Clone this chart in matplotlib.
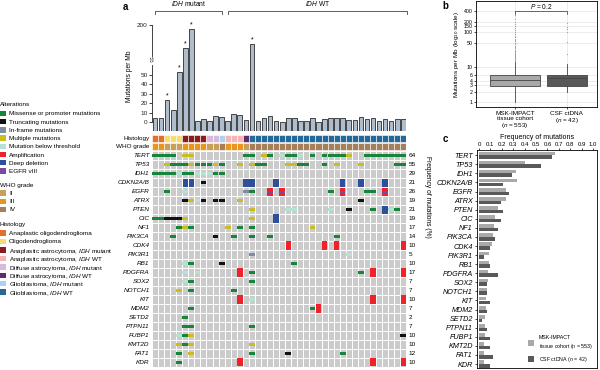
import numpy as np
import matplotlib.pyplot as plt

plt.rcParams['font.family'] = ['Liberation Sans', 'DejaVu Sans']
plt.rcParams['mathtext.fontset'] = 'custom'
plt.rcParams['mathtext.rm'] = 'Liberation Sans'
plt.rcParams['mathtext.it'] = 'Liberation Sans:italic'
plt.rcParams['axes.linewidth'] = 0.6

# ---- data -------------------------------------------------------------
genes = ['TERT', 'TP53', 'IDH1', 'CDKN2A/B', 'EGFR', 'ATRX', 'PTEN', 'CIC', 'NF1',
         'PIK3CA', 'CDK4', 'PIK3R1', 'RB1', 'PDGFRA', 'SOX2', 'NOTCH1', 'KIT', 'MDM2',
         'SETD2', 'PTPN11', 'FUBP1', 'KMT2D', 'FAT1', 'KDR']
freq_pct = [64, 55, 29, 21, 26, 19, 21, 19, 17, 14, 10, 5, 10, 17, 7, 7, 10, 7, 2, 7,
            10, 10, 12, 10]

# mutations per Mb for the 42 CSF samples
tmb = [5, 5, 24, 13, 53, 127, 188, 1, 4, 1, 7, 6, 1, 9, 8, 3, 139, 1, 5, 7, 1, 0,
       5, 5, 1, 1, 5, 0, 4, 5, 5, 5, 3, 3, 6, 4, 5, 1, 4, 2, 4, 4]
star_cols = [2, 4, 5, 6, 16]

hist_names = ['Anaplastic oligodendroglioma', 'Oligodendroglioma',
              'Anaplastic astrocytoma, $\\it{IDH}$ mutant', 'Anaplastic astrocytoma, $\\it{IDH}$ WT',
              'Diffuse astrocytoma, $\\it{IDH}$ mutant', 'Diffuse astrocytoma, $\\it{IDH}$ WT',
              'Glioblastoma, $\\it{IDH}$ mutant', 'Glioblastoma, $\\it{IDH}$ WT']
hist_colors = ['#e2712b', '#f7dc6f', '#8b1c1c', '#f5b5b5', '#d9b8dc', '#5e2b6e',
               '#a9d3ef', '#25689a']
histology = [0, 0, 1, 1, 1, 2, 2, 2, 2, 4, 4, 6, 3, 3, 3, 5] + [7] * 26
who_names = ['II', 'III', 'IV']
who_colors = ['#c9a05b', '#e8961f', '#a57e5a']
who_grade = [1, 1, 0, 0, 0, 1, 1, 1, 1, 0, 0, 2, 1, 1, 1, 0] + [2] * 26

missense = {'TERT': [0, 1, 2, 3, 15, 16, 19, 22, 23, 26, 28, 29, 30, 31, 35, 36, 37, 38, 39, 40, 41],
            'TP53': [3, 4, 5, 7, 8, 9, 11, 17, 18, 24, 25, 28, 40, 41],
            'IDH1': [0, 1, 2, 3, 5, 6, 10, 11], 'EGFR': [2, 16, 29, 35, 36],
            'PTEN': [36, 40], 'CIC': [0, 1], 'NF1': [4, 6, 14, 16],
            'PIK3CA': [3, 13, 16, 19, 30], 'RB1': [6, 23], 'PDGFRA': [16, 34],
            'SOX2': [6, 16], 'NOTCH1': [6, 13], 'MDM2': [6, 26], 'SETD2': [5],
            'PTPN11': [5, 6, 16], 'FUBP1': [5], 'KMT2D': [5], 'FAT1': [4, 16, 31],
            'KDR': [4]}
truncating = {'CDKN2A/B': [8], 'ATRX': [5, 8, 10, 11, 34], 'PTEN': [32], 'CIC': [2, 3, 4],
              'PIK3CA': [10], 'RB1': [11], 'FUBP1': [41], 'FAT1': [22]}
inframe = {'EGFR': [15], 'PIK3R1': [16]}
multiple = {'TERT': [5, 6, 18, 32], 'TP53': [2, 6, 10, 14, 16, 22, 23, 30, 34],
            'ATRX': [6, 14], 'PTEN': [16], 'CIC': [5, 16], 'NF1': [5, 12, 26],
            'NOTCH1': [4], 'FUBP1': [6], 'KMT2D': [4, 6, 16], 'FAT1': [6]}
below_threshold = {'TERT': [21, 24], 'IDH1': [4, 7, 8, 9], 'EGFR': [5], 'ATRX': [7],
                   'PTEN': [22, 23, 29, 39], 'PIK3R1': [32], 'RB1': [5], 'PDGFRA': [5, 7],
                   'SOX2': [5], 'KIT': [16], 'FUBP1': [4]}
amplification = {'EGFR': [19, 21, 31, 38], 'CDK4': [22, 28, 30, 41], 'PDGFRA': [14, 36, 41],
                 'KIT': [14, 36, 41], 'MDM2': [27], 'KDR': [14, 36, 41]}
deep_deletion = {'CDKN2A/B': [5, 6, 15, 16, 20, 31, 34, 38], 'PTEN': [38], 'CIC': [20]}
egfr_viii = {'EGFR': [19, 21, 31, 38]}

# panel b summaries (mutations per Mb)
cohorts = ['MSK-IMPACT\ntissue cohort\n($\\it{n}$ = 553)', 'CSF ctDNA\n($\\it{n}$ = 42)']
box_q1 = [2.9, 2.9]
box_med = [4.3, 4.8]
box_q3 = [5.8, 5.8]
box_lo = [1.0, 2.0]
box_hi = [14, 12.6]
msk_outliers = [15, 16, 17, 18, 19, 20, 21, 22, 24, 26, 28, 30, 32, 35, 38, 41, 45, 50,
                55, 60, 66, 72, 80, 90, 100, 115, 130, 150, 175, 200, 250, 320, 420]
csf_outliers = [24, 53, 100, 127, 139, 188]

# panel c frequencies
msk_freq = [0.667, 0.404, 0.325, 0.33, 0.237, 0.237, 0.164, 0.14, 0.135, 0.126, 0.111,
            0.09, 0.085, 0.076, 0.076, 0.073, 0.061, 0.061, 0.056, 0.053, 0.053, 0.047,
            0.044, 0.044]
csf_freq = [p / 100 for p in [64.3, 54.8, 28.6, 21.4, 26.2, 19.0, 21.4, 19.0, 16.7, 14.3,
                              9.5, 4.8, 9.5, 16.7, 7.1, 7.1, 9.5, 7.1, 2.4, 7.1, 9.5, 9.5,
                              11.9, 9.5]]

alt_names = ['Missense or promoter mutations', 'Truncating mutations', 'In-frame mutations',
             'Multiple mutations', 'Mutation below threshold', 'Amplification',
             'Deep deletion', 'EGFR vIII']
alt_colors = ['#17843c', '#111111', '#7d8ea3', '#c9bd22', '#b5e3d2', '#ee2229',
              '#2f4e9c', '#7b4a9a']

# ---- layout helpers ---------------------------------------------------
W, H = 600, 370
fig = plt.figure(figsize=(6, 3.7), dpi=100)


def axes_px(l, t, r, b):
    return fig.add_axes([l / W, 1 - b / H, (r - l) / W, (b - t) / H])


ov = axes_px(0, 0, W, H)
ov.set_xlim(0, W)
ov.set_ylim(H, 0)
ov.axis('off')

# ---- legend (left) ----------------------------------------------------
fs = 4.6
ov.text(0, 104, 'Alterations', fontsize=fs, va='center_baseline')
for i, (n, c) in enumerate(zip(alt_names, alt_colors)):
    y = 113.5 + 8.2 * i
    ov.bar(3.2, 5.4, bottom=y - 2.7, width=5.6, color=c)
    ov.text(9, y, n, fontsize=fs, va='center_baseline')
ov.text(0, 185, 'WHO grade', fontsize=fs, va='center_baseline')
for i, (n, c) in enumerate(zip(who_names, who_colors)):
    y = 193 + 8.2 * i
    ov.bar(3.2, 5.4, bottom=y - 2.7, width=5.6, color=c)
    ov.text(9, y, n, fontsize=fs, va='center_baseline')
ov.text(0, 224, 'Histology', fontsize=fs, va='center_baseline')
for i, (n, c) in enumerate(zip(hist_names, hist_colors)):
    y = 233 + 8.45 * i
    ov.bar(3.2, 5.4, bottom=y - 2.7, width=5.6, color=c)
    ov.text(9, y, n, fontsize=fs, va='center_baseline')

# ---- panel a: TMB bars ------------------------------------------------
ncol = len(tmb)


def fwd(v):
    v = np.asarray(v, float)
    return np.where(v <= 55, v, 55 + (v - 55) * 0.327)


def inv(d):
    d = np.asarray(d, float)
    return np.where(d <= 55, d, 55 + (d - 55) / 0.327)


axa = axes_px(152, 22, 406.3, 131)
axa.set_yscale('function', functions=(fwd, inv))
x = np.arange(ncol) + 0.5
axa.bar(x, np.array(tmb) + 9, bottom=-9, width=0.77, color='#aebccb',
        edgecolor='#2b2b2b', linewidth=0.6)
for k in star_cols:
    axa.annotate('*', (x[k], tmb[k]), xytext=(0, 0.5), textcoords='offset points',
                 ha='center', va='bottom', fontsize=5)
axa.set_xlim(0, ncol)
axa.set_ylim(-9, 210)
for s in ['top', 'right', 'bottom', 'left']:
    axa.spines[s].set_visible(False)
axa.set_xticks([])
axa.set_yticks([0, 10, 20, 30, 40, 50, 200])
axa.set_yticklabels(['0', '10', '20', '30', '40', '50', '200'])
axa.yaxis.set_minor_locator(plt.NullLocator())
axa.tick_params(axis='y', labelsize=4.6, length=2, width=0.6, pad=1, colors='#222222')
tr = axa.get_yaxis_transform()
axa.plot([0, 0], [0, 72], color='#222222', lw=0.6, transform=tr, clip_on=False)
axa.plot([0, 0], [102, 200], color='#222222', lw=0.6, transform=tr, clip_on=False)
axa.text(0, 86, '//', transform=tr, ha='center', va='center', fontsize=5.5, rotation=20)
axa.set_ylabel('Mutations per Mb', fontsize=4.8, labelpad=3)

# IDH brackets and panel letter
ov.text(125, 7, 'a', fontsize=7, fontweight='bold', va='center', ha='center')
for l, r, lab in [(155, 222, '$\\it{IDH}$ mutant'), (228, 407, '$\\it{IDH}$ WT')]:
    ov.plot([l, l, r, r], [14, 11, 11, 14], color='#444444', lw=0.6)
    ov.text((l + r) / 2, 4, lab, fontsize=4.8, ha='center', va='center')

# ---- panel a: oncoprint ----------------------------------------------
axo = axes_px(152, 134, 406.3, 367)
axo.set_xlim(0, ncol)
axo.set_ylim(23.55, -2.45)
axo.axis('off')
cols = np.arange(ncol) + 0.5
axo.bar(cols, 0.75, bottom=-1.97 - 0.375, width=1,
        color=[hist_colors[h] for h in histology], edgecolor='white', linewidth=0.4)
axo.bar(cols, 0.75, bottom=-1.05 - 0.375, width=1,
        color=[who_colors[g] for g in who_grade], edgecolor='white', linewidth=0.4)
axo.text(-0.4, -1.97, 'Histology', ha='right', va='center', fontsize=4.6)
axo.text(-0.4, -1.05, 'WHO grade', ha='right', va='center', fontsize=4.6)

for r, g in enumerate(genes):
    axo.bar(cols, 1, bottom=r - 0.5, width=1, color='#cbcbcb', edgecolor='white',
            linewidth=0.7)
    axo.text(-0.4, r, g, ha='right', va='center', fontsize=4.6, style='italic')
    axo.text(ncol + 0.35, r, str(freq_pct[r]), ha='left', va='center', fontsize=4.6)
    for table, c in [(amplification, '#ee2229'), (deep_deletion, '#2f4e9c')]:
        cc = np.array(table.get(g, [])) + 0.5
        axo.bar(cc, 0.94, bottom=r - 0.47, width=0.9, color=c)
    cc = np.array(egfr_viii.get(g, [])) + 0.5
    axo.bar(cc, 0.24, bottom=r - 0.12, width=0.9, color='#7b4a9a')
    for table, c in [(missense, alt_colors[0]), (truncating, alt_colors[1]),
                     (inframe, alt_colors[2]), (multiple, alt_colors[3]),
                     (below_threshold, alt_colors[4])]:
        cc = np.array(table.get(g, [])) + 0.5
        axo.bar(cc, 0.34, bottom=r - 0.17, width=0.96, color=c)

ov.text(427, 197, 'Frequency of mutations (%)', rotation=270, fontsize=4.8,
        ha='center', va='center')

# ---- panel b ----------------------------------------------------------
ov.text(445, 6, 'b', fontsize=7, fontweight='bold', va='center', ha='center')
axb = axes_px(476, 1, 597, 107)
stats = []
for i, fl in enumerate([msk_outliers, csf_outliers]):
    stats.append(dict(med=box_med[i], q1=box_q1[i], q3=box_q3[i], whislo=box_lo[i],
                      whishi=box_hi[i], fliers=fl))
axb.set_yscale('log')
axb.grid(True, color='#e4e4e4', lw=0.5)
axb.set_axisbelow(True)
bp = axb.bxp(stats, positions=[1, 2], widths=[0.95, 0.78], patch_artist=True,
             showcaps=False, flierprops=dict(marker='o', markersize=0.8,
                                             markerfacecolor='#999999',
                                             markeredgecolor='none'),
             medianprops=dict(color='#444444', lw=0.6),
             whiskerprops=dict(color='#444444', lw=0.6),
             boxprops=dict(lw=0.6, edgecolor='#444444'))
for patch, c in zip(bp['boxes'], ['#a9a9a9', '#595959']):
    patch.set_facecolor(c)
axb.set_xlim(0.25, 2.58)
axb.set_ylim(0.72, 800)
yt = [1, 2, 3, 4, 6, 10, 50, 100, 150, 200, 400]
axb.set_yticks(yt)
axb.set_yticklabels([str(v) for v in yt])
axb.yaxis.set_minor_locator(plt.NullLocator())
axb.set_xticks([1, 2])
axb.set_xticklabels(cohorts, fontsize=4.6, linespacing=0.95)
axb.tick_params(axis='y', labelsize=3.8, length=1.5, width=0.5, pad=1)
axb.tick_params(axis='x', length=1.5, width=0.5, pad=1.5)
axb.set_ylabel('Mutations per Mb (log$_{10}$ scale)', fontsize=4.6, labelpad=2)
axb.plot([1, 1, 2, 2], [330, 420, 420, 330], color='#333333', lw=0.5)
axb.text(1.5, 560, '$\\it{P}$ = 0.2', fontsize=4.8, ha='center', va='center')

# ---- panel c ----------------------------------------------------------
ov.text(445, 139, 'c', fontsize=7, fontweight='bold', va='center', ha='center')
axc = axes_px(477, 150, 597, 368)
rows = np.arange(len(genes))
axc.barh(rows - 0.2, msk_freq, height=0.39, color='#a9a9a9',
         label='MSK-IMPACT\ntissue cohort ($\\it{n}$ = 553)')
axc.barh(rows + 0.2, csf_freq, height=0.39, color='#595959',
         label='CSF ctDNA ($\\it{n}$ = 42)')
axc.set_xlim(-0.0175, 1.035)
axc.set_ylim(23.44, -0.58)
axc.set_yticks(rows)
axc.set_yticklabels(genes, style='italic', fontsize=5.2)
axc.xaxis.tick_top()
axc.xaxis.set_label_position('top')
xt = [0, 0.1, 0.2, 0.3, 0.4, 0.5, 0.6, 0.7, 0.8, 0.9, 1.0]
axc.set_xticks(xt)
axc.set_xticklabels(['0'] + ['%.1f' % v for v in xt[1:]])
axc.tick_params(axis='x', labelsize=4.3, length=1.5, width=0.5, pad=1)
axc.tick_params(axis='y', length=1.5, width=0.5, pad=1.5)
axc.set_xlabel('Frequency of mutations', fontsize=5.0, labelpad=2)
axc.legend(loc='lower right', frameon=False, fontsize=3.8, handlelength=1.2,
           handleheight=1.3, borderaxespad=0.4, labelspacing=0.8)

fig.savefig('out.png', dpi=100)
